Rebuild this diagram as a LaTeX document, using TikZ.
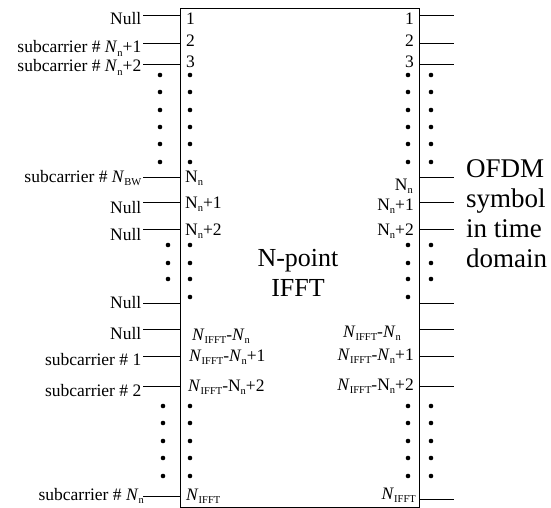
\documentclass[tikz,border=0pt]{standalone}
\usepackage{fontspec}
\setmainfont{Liberation Serif}
\newcommand\sbn[1]{\raisebox{-3.5pt}{\fontsize{10.5}{10.5}\selectfont #1}}
\begin{document}
\begin{tikzpicture}[x=1pt,y=-1pt,
  lbl/.style={inner sep=0pt,font=\fontsize{17.5}{20}\selectfont},
  lout/.style={lbl,anchor=base east},
  lin/.style={lbl,anchor=base west},
  wire/.style={line width=0.9pt},
  blockbox/.style={draw,line width=0.9pt,inner sep=0pt,minimum width=239pt,minimum height=499pt,anchor=north west}]
\useasboundingbox (0,0) rectangle (551,508);
\node[blockbox] (box) at (180,8) {};
% wires
\foreach \y in {15,43,64,177,202,229,303,329,356,386,496}{
  \coordinate (L\y) at (143,\y);
  \draw[wire] (L\y) -- (L\y -| box.west);
}
\foreach \y in {15,43,64,177,202,229,303,329,356,386,499}{
  \coordinate (R\y) at (454,\y);
  \draw[wire] (R\y -| box.east) -- (R\y);
}
% dots
\foreach \x in {160,190,408,431}
  \foreach \y in {75,92,110,127,144,162}
    \fill (\x,\y) circle[radius=2.3pt];
\foreach \x in {168,431}
  \foreach \y in {245,263,279}
    \fill (\x,\y) circle[radius=2.3pt];
\foreach \x in {190,408}
  \foreach \y in {245,263,279,297}
    \fill (\x,\y) circle[radius=2.3pt];
\foreach \x in {163,190,408,431}
  \foreach \y in {406,423,441,458,476}
    \fill (\x,\y) circle[radius=2.3pt];
% left outer labels
\node[lout] (lo1) at (141.5,25) {Null};
\node[lout] (lo2) at (141.5,53) {subcarrier \# \textit{N}\sbn{n}+1};
\node[lout] (lo3) at (141.5,72) {subcarrier \# \textit{N}\sbn{n}+2};
\node[lout] (lo4) at (141.5,182) {subcarrier \# \textit{N}\sbn{BW}};
\node[lout] (lo5) at (141.5,213) {Null};
\node[lout] (lo6) at (141.5,240) {Null};
\node[lout] (lo7) at (141.5,308) {Null};
\node[lout] (lo8) at (141.5,339) {Null};
\node[lout] (lo9) at (141.5,365) {subcarrier \# 1};
\node[lout] (lo10) at (141.5,396) {subcarrier \# 2};
\node[lout] (lo11) at (144,500) {subcarrier \# \textit{N}\sbn{n}};
% left inner labels
\node[lin] (li1) at (186,25) {1};
\node[lin] (li2) at (186,47) {2};
\node[lin] (li3) at (186,68) {3};
\node[lin] (li4) at (185,182) {N\sbn{n}};
\node[lin] (li5) at (185,208) {N\sbn{n}+1};
\node[lin] (li6) at (185,235) {N\sbn{n}+2};
\node[lin] (li7) at (192,340) {\textit{N}\sbn{IFFT}-\textit{N}\sbn{n}};
\node[lin] (li8) at (189,361) {\textit{N}\sbn{IFFT}-\textit{N}\sbn{n}+1};
\node[lin] (li9) at (188,391) {\textit{N}\sbn{IFFT}-N\sbn{n}+2};
\node[lin] (li10) at (186,500) {\textit{N}\sbn{IFFT}};
% right inner labels
\node[lout] (ri1) at (414,25) {1};
\node[lout] (ri2) at (414,47) {2};
\node[lout] (ri3) at (414,68) {3};
\node[lout] (ri4) at (413,190) {N\sbn{n}};
\node[lout] (ri5) at (414,210) {N\sbn{n}+1};
\node[lout] (ri6) at (414,235) {N\sbn{n}+2};
\node[lout] (ri7) at (401,337) {\textit{N}\sbn{IFFT}-\textit{N}\sbn{n}};
\node[lout] (ri8) at (414,360) {\textit{N}\sbn{IFFT}-\textit{N}\sbn{n}+1};
\node[lout] (ri9) at (414,390) {\textit{N}\sbn{IFFT}-N\sbn{n}+2};
\node[lout] (ri10) at (416,499) {\textit{N}\sbn{IFFT}};
% titles
\node[inner sep=0pt,anchor=north,align=center,font=\fontsize{26}{30}\selectfont] (title) at (298,249.3) {N-point\\IFFT};
\node[inner sep=0pt,anchor=north west,align=left,font=\fontsize{27}{30}\selectfont] (out) at (466,159.7) {OFDM\\symbol\\in time\\domain};
\end{tikzpicture}
\end{document}
